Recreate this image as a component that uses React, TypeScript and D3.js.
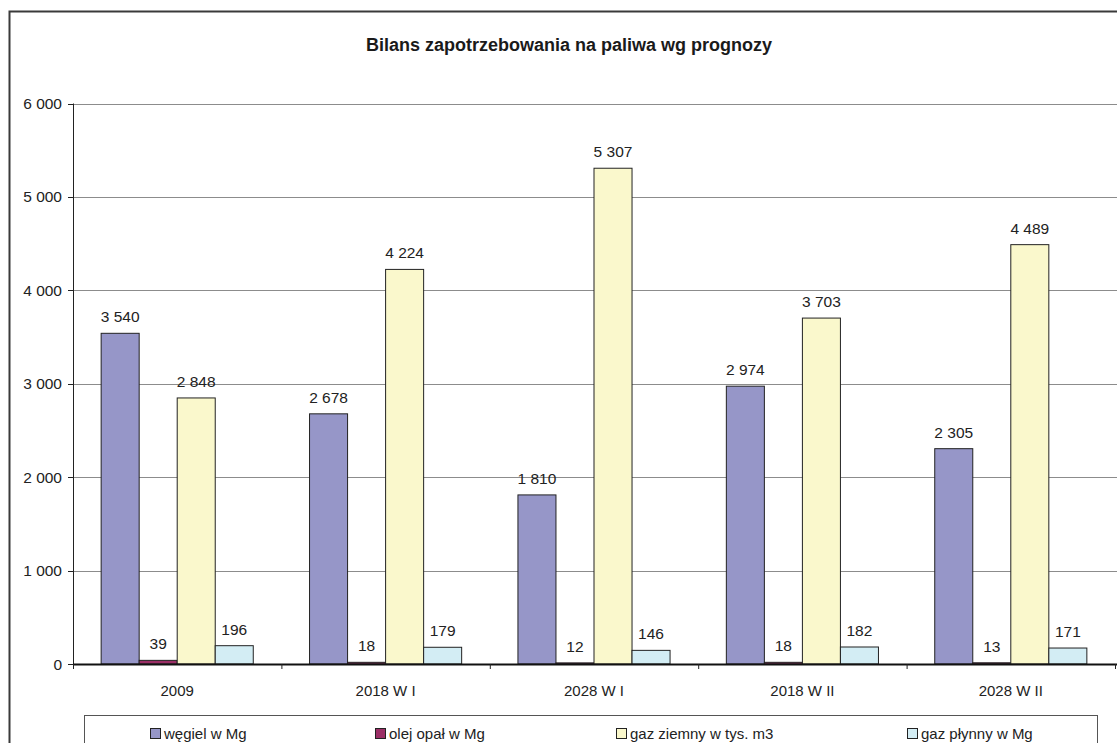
import React from "react";
import * as d3 from "d3";

const categories = ["2009", "2018 W I", "2028 W I", "2018 W II", "2028 W II"];
const seriesNames = ["węgiel w Mg", "olej opał w Mg", "gaz ziemny w tys. m3", "gaz płynny w Mg"];
const wegiel = [3540, 2678, 1810, 2974, 2305];
const olej = [39, 18, 12, 18, 13];
const gazZiemny = [2848, 4224, 5307, 3703, 4489];
const gazPlynny = [196, 179, 146, 182, 171];
const yTicks = [0, 1000, 2000, 3000, 4000, 5000, 6000];
const colors = ["#9696C8", "#9B2F66", "#FAF8CC", "#D3EDF4"];

const W = 1117;
const H = 743;
const FONT = "'Liberation Sans', Arial, sans-serif";

const fmt = (v: number) => d3.format(",")(v).replace(/,/g, " ");

export default function App() {
  const series = [wegiel, olej, gazZiemny, gazPlynny];
  const left = 73;
  const right = 1115;
  const top = 103.5;
  const bottom = 664;

  const x = d3.scaleBand<string>().domain(categories).range([left, right]).paddingInner(0).paddingOuter(0);
  const inner = d3
    .scaleBand<number>()
    .domain(d3.range(series.length))
    .range([0, x.bandwidth()])
    .paddingOuter(0.74)
    .paddingInner(0);
  const y = d3.scaleLinear().domain([0, 6000]).range([bottom, top]);

  const legendX = [150, 375, 616, 907];

  return (
    <div style={{ position: "fixed", left: 0, top: 0, width: W, height: H, overflow: "hidden" }}>
      <svg width={W} height={H} style={{ display: "block", fontFamily: FONT }}>
        <rect x={0} y={0} width={W} height={H} fill="#fff" />
        {/* chart frame */}
        <rect x={9.5} y={11.5} width={W + 20} height={H + 20} fill="none" stroke="#3a3a3a" strokeWidth={2} />
        <text x={569} y={50.5} textAnchor="middle" fontSize={18} fontWeight="bold" fill="#1a1a1a">
          Bilans zapotrzebowania na paliwa wg prognozy
        </text>

        {/* gridlines */}
        {yTicks.map((t) => (
          <line key={t} x1={left} x2={W} y1={Math.round(y(t)) + 0.5} y2={Math.round(y(t)) + 0.5} stroke="#8c8c8c" strokeWidth={1} />
        ))}
        {/* y axis */}
        <line x1={left + 0.5} x2={left + 0.5} y1={top} y2={bottom} stroke="#222" strokeWidth={1} />
        {yTicks.map((t) => (
          <g key={t}>
            <line x1={68} x2={left} y1={Math.round(y(t)) + 0.5} y2={Math.round(y(t)) + 0.5} stroke="#222" />
            <text x={62} y={y(t) + 5.5} textAnchor="end" fontSize={15.5} fill="#222">
              {fmt(t)}
            </text>
          </g>
        ))}

        {/* bars */}
        {categories.map((c, ci) =>
          series.map((s, si) => {
            const bx = (x(c) as number) + (inner(si) as number);
            const bw = inner.bandwidth();
            const by = y(s[ci]);
            return (
              <g key={c + si}>
                <rect x={bx} y={by} width={bw} height={bottom - by} fill={colors[si]} stroke="#222" strokeWidth={1} />
                <text x={bx + bw / 2} y={by - 11} textAnchor="middle" fontSize={15.5} fill="#222">
                  {fmt(s[ci])}
                </text>
              </g>
            );
          })
        )}

        {/* x axis */}
        <line x1={left} x2={W} y1={bottom + 0.5} y2={bottom + 0.5} stroke="#111" strokeWidth={2} />
        {categories.map((c, i) => (
          <line key={"t" + i} x1={(x(c) as number) + 0.5} x2={(x(c) as number) + 0.5} y1={bottom} y2={bottom + 5} stroke="#222" />
        ))}
        <line x1={right + 0.5} x2={right + 0.5} y1={bottom} y2={bottom + 5} stroke="#222" />
        {categories.map((c) => (
          <text key={c} x={(x(c) as number) + x.bandwidth() / 2} y={695.5} textAnchor="middle" fontSize={15} fill="#222">
            {c}
          </text>
        ))}

        {/* legend */}
        <rect x={84.5} y={715.5} width={1013} height={40} fill="#fff" stroke="#555" strokeWidth={1} />
        {seriesNames.map((n, i) => (
          <g key={n}>
            <rect x={legendX[i] + 0.5} y={728.5} width={10} height={10} fill={colors[i]} stroke="#222" />
            <text x={legendX[i] + 14} y={738.5} fontSize={15} fill="#222">
              {n}
            </text>
          </g>
        ))}
      </svg>
    </div>
  );
}
